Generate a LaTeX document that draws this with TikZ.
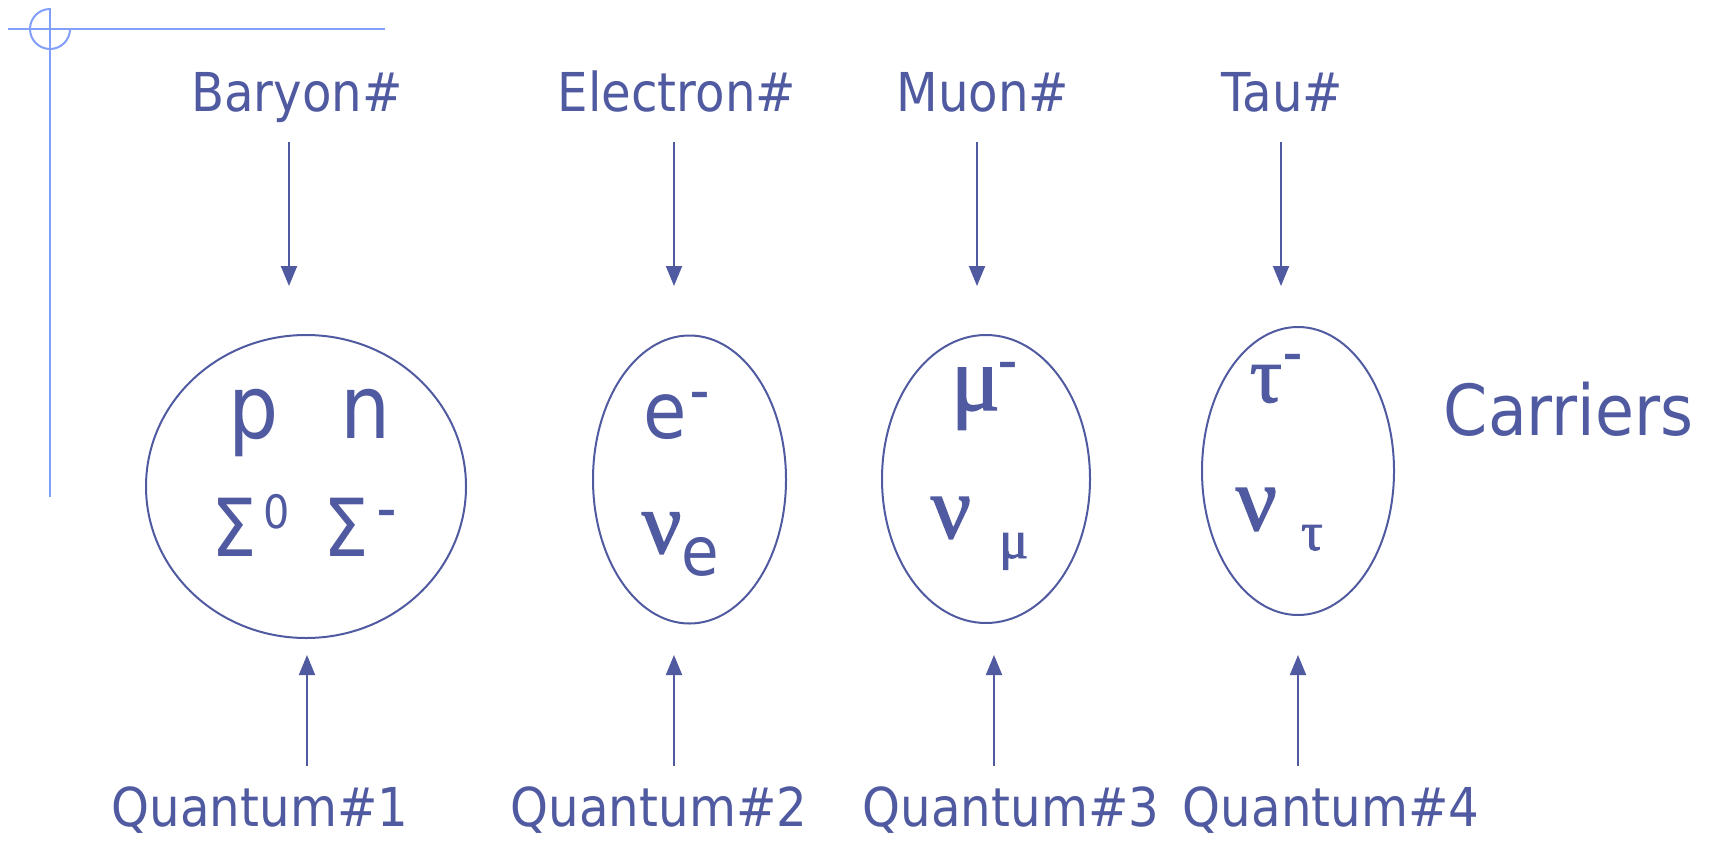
\documentclass[tikz,border=0pt]{standalone}
\usepackage{fontspec}
\setmainfont{DejaVu Sans}[FakeStretch=0.9]
\newfontfamily\greekfont{Liberation Serif}[FakeBold=1.6]
\usepackage{xcolor}
\usetikzlibrary{arrows.meta,shapes.geometric}

\definecolor{ink}{RGB}{80,90,160}
\definecolor{guide}{RGB}{130,160,250}

\newcommand{\fs}[1]{\fontsize{#1}{#1}\selectfont}
% raised minus after a particle symbol
\newcommand{\sgn}[2]{\hspace{#1}\raisebox{#2}{\fs{10.5}\bfseries\textendash}}

\begin{document}
\begin{tikzpicture}[x=0.25pt, y=-0.25pt, >={Triangle[width=4pt,length=5pt]},
  every node/.style={text=ink, inner sep=0pt},
  qlabel/.style={font=\fs{13.4}, anchor=base},
  carrier/.style={draw=ink, line width=0.5pt, ellipse},
  flow/.style={draw=ink, line width=0.5pt, ->},
  sym/.style={anchor=base west}]
\useasboundingbox (0,0) rectangle (1712,846);
% guide marks
\draw[guide, line width=0.5pt] (8,29) -- (385,29);
\draw[guide, line width=0.5pt] (50,8) -- (50,497);
\draw[guide, line width=0.5pt] (50,9) arc[start angle=270, end angle=0, radius=20];

\node[carrier, minimum width=80pt, minimum height=75.75pt] (bary) at (306,486.5) {};
\node[carrier, minimum width=48.25pt, minimum height=72pt] (elec) at (689.5,479.5) {};
\node[carrier, minimum width=52pt, minimum height=72pt] (muon) at (986,479) {};
\node[carrier, minimum width=48pt, minimum height=72pt] (tau) at (1298,471) {};

\node[qlabel] (nb) at (297,111) {Baryon\#};
\node[qlabel] (ne) at (677,111) {Electron\#};
\node[qlabel] (nm) at (983,111) {Muon\#};
\node[qlabel] (nt) at (1282,111) {Tau\#};

\coordinate (b-in) at (289,142);
\coordinate (e-in) at (674,142);
\coordinate (m-in) at (977,142);
\coordinate (t-in) at (1281,142);
\draw[flow] (b-in) -- ++(0,144);
\draw[flow] (e-in) -- ++(0,144);
\draw[flow] (m-in) -- ++(0,144);
\draw[flow] (t-in) -- ++(0,144);

\node[sym, font=\fs{22}] (prot) at (228,438) {p};
\node[sym, font=\fs{22}] (neut) at (340,438) {n};
\node[sym, font=\fs{20}] (sig0) at (211,556) {Σ\hspace{1.5pt}\raisebox{7pt}{\fs{11.5}0}};
\node[sym, font=\fs{20}] (sigm) at (323,556) {Σ\sgn{2pt}{8pt}};
\node[sym, font=\fs{19.6}] (elm) at (643,438) {e\sgn{0.8pt}{7.8pt}};
\node[sym, font=\fs{22}] (nue) at (641,553) {{\greekfont ν}\raisebox{-5.5pt}{\fs{17}e}};
\node[sym, font=\fs{23}] (mum) at (950,410) {{\greekfont μ}\sgn{-0.3pt}{8.5pt}};
\node[sym, font=\fs{22.3}] (num) at (930,538) {{\greekfont ν}\hspace{7pt}\raisebox{-5pt}{\fs{13.6}\greekfont μ}};
\node[sym, font=\fs{20}] (taum) at (1249,402) {{\greekfont τ}\sgn{0.5pt}{8.5pt}};
\node[sym, font=\fs{22.8}] (nut) at (1235,530) {{\greekfont ν}\hspace{6pt}\raisebox{-5pt}{\fs{13.6}\greekfont τ}};
\node[sym, font=\fs{17.6}] (carr) at (1443,435) {Carriers};

\coordinate (b-q) at (307,766);
\coordinate (e-q) at (674,766);
\coordinate (m-q) at (994,766);
\coordinate (t-q) at (1298,766);
\draw[flow] (b-q) -- ++(0,-111);
\draw[flow] (e-q) -- ++(0,-111);
\draw[flow] (m-q) -- ++(0,-111);
\draw[flow] (t-q) -- ++(0,-111);

\node[qlabel] (q1) at (260,826) {Quantum\#1};
\node[qlabel] (q2) at (659,826) {Quantum\#2};
\node[qlabel] (q3) at (1011,826) {Quantum\#3};
\node[qlabel] (q4) at (1331,826) {Quantum\#4};
\end{tikzpicture}
\end{document}
